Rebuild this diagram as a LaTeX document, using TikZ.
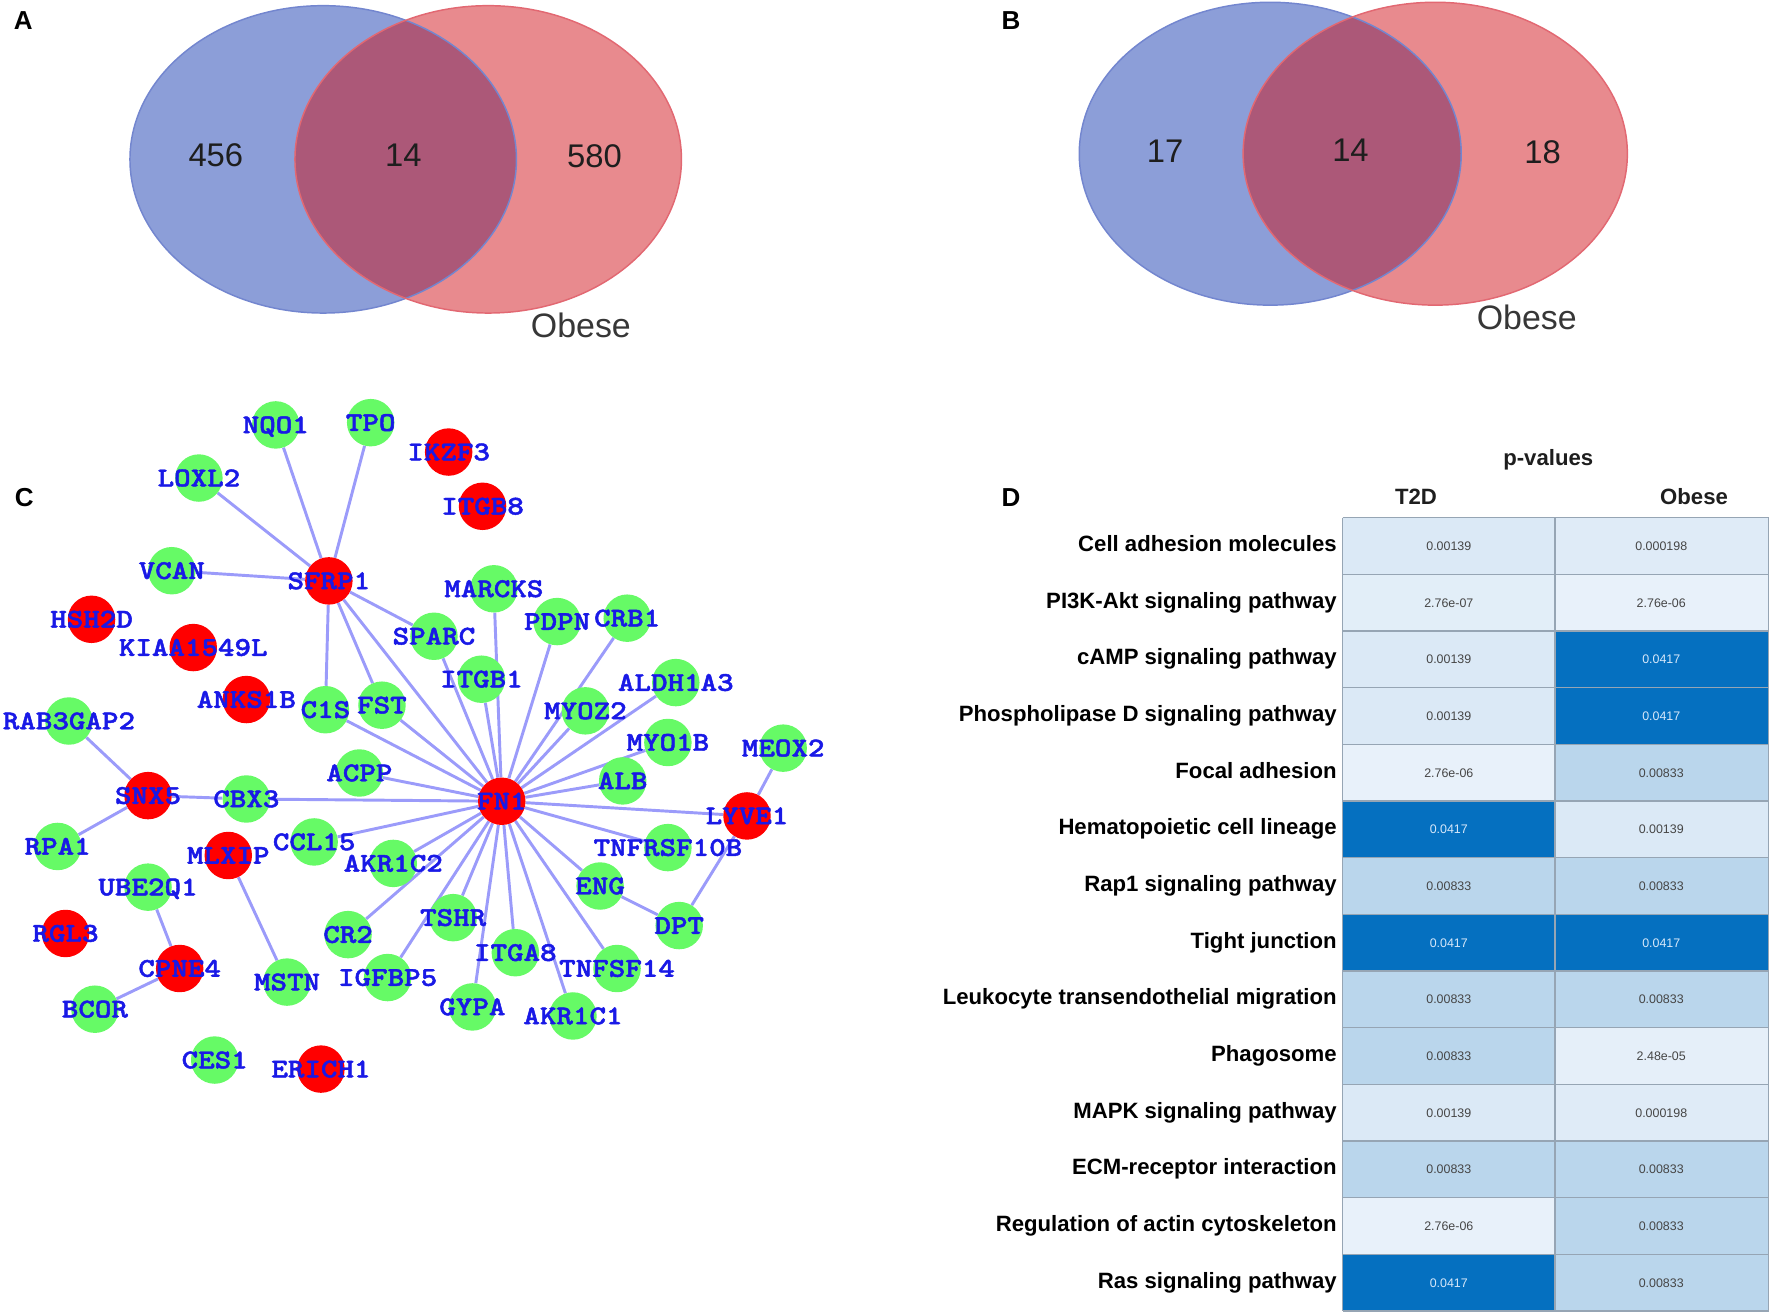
\documentclass[tikz,border=0pt]{standalone}
\usepackage{fontspec}
\setmainfont{Liberation Sans}
\newfontfamily\genemono[Extension=.otf,FakeBold=1.6]{lmmonolt10-bold}
\definecolor{vblue}{RGB}{140,158,216}
\definecolor{vred}{RGB}{232,138,142}
\definecolor{vover}{RGB}{172,88,120}
\definecolor{vblueedge}{RGB}{115,134,207}
\definecolor{vrededge}{RGB}{226,104,114}
\definecolor{ngreen}{RGB}{102,250,102}
\definecolor{nred}{RGB}{255,0,0}
\definecolor{lblue}{RGB}{25,25,230}
\definecolor{eblue}{RGB}{155,155,250}
\definecolor{cLa}{RGB}{219,233,246}
\definecolor{cLb}{RGB}{223,235,247}
\definecolor{cLc}{RGB}{226,238,248}
\definecolor{cLd}{RGB}{232,241,250}
\definecolor{cLe}{RGB}{229,239,249}
\definecolor{cM}{RGB}{186,214,236}
\definecolor{cD}{RGB}{5,112,192}
\definecolor{tl}{RGB}{70,70,70}
\definecolor{td}{RGB}{215,232,250}
\definecolor{gridc}{RGB}{150,165,180}
\definecolor{txtdark}{RGB}{30,30,30}
\definecolor{obesec}{RGB}{55,55,55}
\pgfdeclarelayer{edges}
\pgfsetlayers{edges,main}
\newcommand\genefont{\fontsize{24}{24}\selectfont\genemono}
\begin{document}
\begin{tikzpicture}[x=1pt,y=-1pt,
  nodeg/.style={circle,fill=ngreen,minimum size=42pt,inner sep=0pt},
  noder/.style={circle,fill=nred,minimum size=42pt,inner sep=0pt},
  glabel/.style={anchor=base,text=lblue,font=\genefont,inner sep=0pt},
  edge/.style={draw=eblue,line width=2.6pt},
  vnum/.style={anchor=base,text=txtdark,font=\fontsize{29}{29}\selectfont,inner sep=0pt},
  obese/.style={anchor=base,text=obesec,font=\fontsize{30}{30}\selectfont,inner sep=0pt},
  panel/.style={anchor=base west,font=\fontsize{23}{23}\selectfont\bfseries,inner sep=0pt},
  rowlab/.style={anchor=base east,font=\fontsize{19.6}{20}\selectfont\bfseries,inner sep=0pt,text=black},
  head/.style={anchor=base,font=\fontsize{19.6}{20}\selectfont\bfseries,inner sep=0pt,text=txtdark},
  cellval/.style={anchor=base,font=\fontsize{11}{12}\selectfont,inner sep=0pt},
  gridline/.style={draw=gridc,line width=1.2pt}
]
\useasboundingbox (0,0) rectangle (1568,1163);

% ---------- Panel A ----------
\fill[vblue] (286,141) ellipse [x radius=171, y radius=136];
\fill[vred] (432,141) ellipse [x radius=171, y radius=136];
\begin{scope}
  \clip (286,141) ellipse [x radius=171, y radius=136];
  \fill[vover] (432,141) ellipse [x radius=171, y radius=136];
\end{scope}
\draw[vblueedge,line width=1.3pt] (286,141) ellipse [x radius=171, y radius=136];
\draw[vrededge,line width=1.3pt] (432,141) ellipse [x radius=171, y radius=136];
\node[panel] (labA) at (12,26) {A};
\node[vnum] (a456) at (191,147.5) {456};
\node[vnum] (a14) at (357,147.5) {14};
\node[vnum] (a580) at (526,148) {580};
\node[obese] (aob) at (514,298.5) {Obese};

% ---------- Panel B ----------
\fill[vblue] (1124,136) ellipse [x radius=169, y radius=134];
\fill[vred] (1270,136) ellipse [x radius=170, y radius=134];
\begin{scope}
  \clip (1124,136) ellipse [x radius=169, y radius=134];
  \fill[vover] (1270,136) ellipse [x radius=170, y radius=134];
\end{scope}
\draw[vblueedge,line width=1.3pt] (1124,136) ellipse [x radius=169, y radius=134];
\draw[vrededge,line width=1.3pt] (1270,136) ellipse [x radius=170, y radius=134];
\node[panel] (labB) at (886,26) {B};
\node[vnum] (b17) at (1031,143.5) {17};
\node[vnum] (b14) at (1195,142.5) {14};
\node[vnum] (b18) at (1365,144.5) {18};
\node[obese] (bob) at (1351,291.5) {Obese};

% ---------- Panel C ----------
\node[panel] (labC) at (13,448) {C};
\foreach \n/\x/\y/\t in {
  NQO1/244/376/g, TPO/328/374/g, IKZF3/397/400/r, ITGB8/427/448/r,
  LOXL2/176/423/g, VCAN/152/505/g, SFRP1/291/514/r, MARCKS/437/521/g,
  HSH2D/81/548/r, KIAA1549L/171/573/r, SPARC/384/563/g, PDPN/493/550/g,
  CRB1/555/547/g, ITGB1/426/601/g, ALDH1A3/598/604/g, ANKS1B/218/619/r,
  C1S/288/628/g, FST/338/624/g, MYOZ2/518/629/g, RAB3GAP2/61/638/g,
  MYO1B/591/657/g, MEOX2/693/662/g, ACPP/318/684/g, ALB/551/691/g,
  SNX5/131/704/r, CBX3/218/707/g, FN1/444/709/r, LYVE1/661/722/r,
  RPA1/51/749/g, CCL15/278/745/g, MLXIP/202/757/r, AKR1C2/348/764/g,
  TNFRSF10B/591/750/g, UBE2Q1/131/785/g, ENG/531/784/g, TSHR/401/812/g,
  DPT/601/819/g, RGL3/58/826/r, CR2/308/827/g, CPNE4/159/857/r,
  ITGA8/456/843/g, TNFSF14/546/857/g, MSTN/254/869/g, IGFBP5/343/865/g,
  BCOR/84/893/g, GYPA/418/891/g, AKR1C1/507/899/g, CES1/190/938/g,
  ERICH1/284/946/r}
  {\node[node\t] (\n) at (\x,\y) {};}

\begin{pgfonlayer}{edges}
\foreach \a/\b in {
  SFRP1/NQO1, SFRP1/TPO, SFRP1/LOXL2, SFRP1/VCAN, SFRP1/C1S, SFRP1/FST,
  SFRP1/SPARC, SFRP1/FN1,
  FN1/SPARC, FN1/MARCKS, FN1/ITGB1, FN1/PDPN, FN1/CRB1, FN1/MYOZ2,
  FN1/ALDH1A3, FN1/MYO1B, FN1/ALB, FN1/LYVE1, FN1/TNFRSF10B, FN1/ENG,
  FN1/TNFSF14, FN1/AKR1C1, FN1/ITGA8, FN1/GYPA, FN1/TSHR, FN1/IGFBP5,
  FN1/CR2, FN1/AKR1C2, FN1/CCL15, FN1/CBX3, FN1/ACPP, FN1/C1S, FN1/FST,
  MEOX2/LYVE1, LYVE1/DPT, DPT/ENG, SNX5/CBX3, SNX5/RAB3GAP2, SNX5/RPA1,
  MLXIP/MSTN, UBE2Q1/CPNE4, CPNE4/BCOR}
  {\draw[edge] (\a) -- (\b);}
\end{pgfonlayer}

\foreach \n in {NQO1, TPO, IKZF3, ITGB8, LOXL2, VCAN, SFRP1, MARCKS, HSH2D,
  KIAA1549L, SPARC, PDPN, CRB1, ITGB1, ALDH1A3, ANKS1B, C1S, FST, MYOZ2,
  RAB3GAP2, MYO1B, MEOX2, ACPP, ALB, SNX5, CBX3, FN1, LYVE1, RPA1, CCL15,
  MLXIP, AKR1C2, TNFRSF10B, UBE2Q1, ENG, TSHR, DPT, RGL3, CR2, CPNE4, ITGA8,
  TNFSF14, MSTN, IGFBP5, BCOR, GYPA, AKR1C1, CES1, ERICH1}
  {\node[glabel] (l\n) at ([yshift=-7.3pt]\n.center) {\scalebox{1.16}[1]{\n}};}

% ---------- Panel D ----------
\node[panel] (labD) at (886,448) {D};
\node[head] (pval) at (1370,412) {p-values};
\node[head] (hT2D) at (1253,446) {T2D};
\node[head] (hOb) at (1499,446) {Obese};

\foreach \i/\lab/\va/\ca/\ta/\vb/\cb/\tb in {
  1/Cell adhesion molecules/0.00139/cLa/tl/0.000198/cLb/tl,
  2/PI3K-Akt signaling pathway/2.76e-07/cLc/tl/2.76e-06/cLd/tl,
  3/cAMP signaling pathway/0.00139/cLa/tl/0.0417/cD/td,
  4/Phospholipase D signaling pathway/0.00139/cLa/tl/0.0417/cD/td,
  5/Focal adhesion/2.76e-06/cLd/tl/0.00833/cM/tl,
  6/Hematopoietic cell lineage/0.0417/cD/td/0.00139/cLa/tl,
  7/Rap1 signaling pathway/0.00833/cM/tl/0.00833/cM/tl,
  8/Tight junction/0.0417/cD/td/0.0417/cD/td,
  9/Leukocyte transendothelial migration/0.00833/cM/tl/0.00833/cM/tl,
  10/Phagosome/0.00833/cM/tl/2.48e-05/cLe/tl,
  11/MAPK signaling pathway/0.00139/cLa/tl/0.000198/cLb/tl,
  12/ECM-receptor interaction/0.00833/cM/tl/0.00833/cM/tl,
  13/Regulation of actin cytoskeleton/2.76e-06/cLd/tl/0.00833/cM/tl,
  14/Ras signaling pathway/0.0417/cD/td/0.00833/cM/tl}
{
  \pgfmathsetmacro\yt{458+50.143*(\i-1)}
  \pgfmathsetmacro\yb{458+50.143*\i}
  \pgfmathsetmacro\yc{458+50.143*(\i-0.5)}
  \fill[\ca] (1188,\yt) rectangle (1376,\yb);
  \fill[\cb] (1376,\yt) rectangle (1565,\yb);
  \node[rowlab] (rl\i) at (1183,\yc+5) {\lab};
  \node[cellval,text=\ta] (va\i) at (1282,\yc+4) {\va};
  \node[cellval,text=\tb] (vb\i) at (1470,\yc+4) {\vb};
}
\foreach \i in {0,...,14}
  {\draw[gridline] (1188,{458+50.143*\i}) -- (1565,{458+50.143*\i});}
\foreach \xx in {1188,1376,1565}
  {\draw[gridline] (\xx,458) -- (\xx,1160);}
\end{tikzpicture}
\end{document}
